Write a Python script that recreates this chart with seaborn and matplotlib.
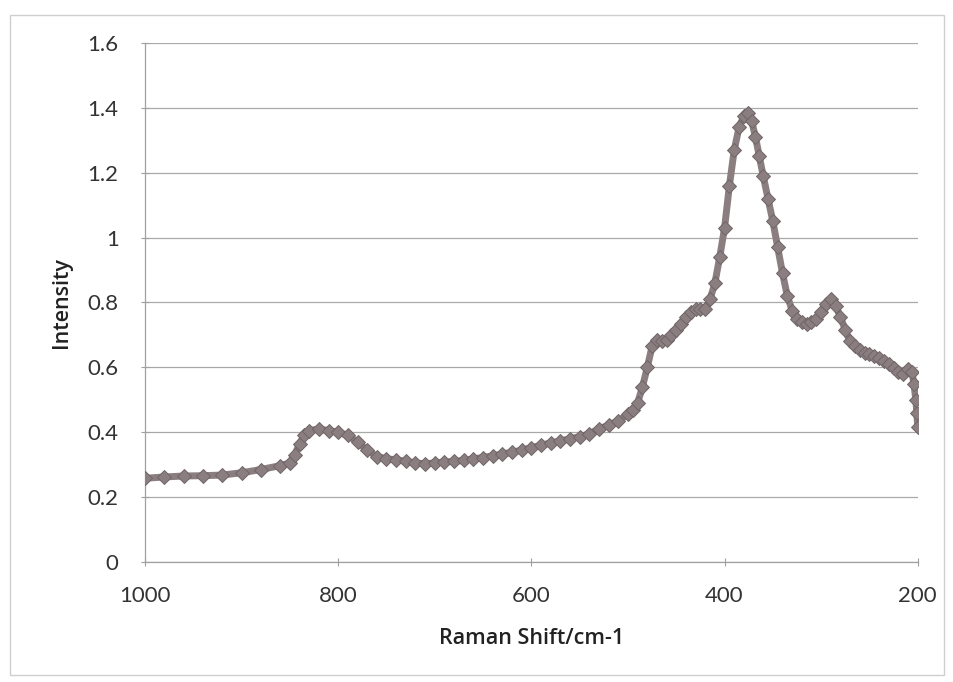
import matplotlib
matplotlib.use("Agg")
import matplotlib.pyplot as plt
import seaborn as sns
import pandas as pd
from matplotlib.patches import Rectangle

raman_shift = [1000, 980, 960, 940, 920, 900, 880, 860, 850, 845, 840, 835, 830, 820, 810,
               800, 790, 780, 770, 760, 750, 740, 730, 720, 710, 700, 690, 680, 670, 660,
               650, 640, 630, 620, 610, 600, 590, 580, 570, 560, 550, 540, 530, 520, 510,
               500, 495, 490, 485, 480, 475, 470, 465, 460, 455, 450, 445, 440, 435, 430,
               425, 420, 415, 410, 405, 400, 395, 390, 385, 380, 376, 372, 368, 364, 360,
               355, 350, 345, 340, 335, 330, 325, 320, 315, 310, 305, 300, 295, 290, 285,
               280, 275, 270, 265, 260, 255, 250, 245, 240, 235, 230, 225, 220, 215, 210,
               206, 204, 202, 201, 200]
intensity = [0.258, 0.262, 0.265, 0.266, 0.268, 0.275, 0.285, 0.297, 0.305, 0.33, 0.365, 0.39, 0.405, 0.41, 0.405,
             0.40, 0.39, 0.37, 0.345, 0.325, 0.318, 0.315, 0.31, 0.305, 0.303, 0.305, 0.308, 0.31, 0.313, 0.318,
             0.322, 0.327, 0.333, 0.338, 0.345, 0.352, 0.36, 0.367, 0.373, 0.38, 0.386, 0.395, 0.41, 0.422, 0.435,
             0.455, 0.47, 0.49, 0.54, 0.60, 0.665, 0.685, 0.68, 0.685, 0.70, 0.715, 0.735, 0.755, 0.77, 0.78,
             0.78, 0.78, 0.81, 0.86, 0.94, 1.03, 1.16, 1.27, 1.34, 1.375, 1.385, 1.36, 1.31, 1.25, 1.19,
             1.12, 1.05, 0.97, 0.89, 0.82, 0.775, 0.75, 0.74, 0.735, 0.74, 0.75, 0.77, 0.795, 0.81, 0.79,
             0.755, 0.715, 0.68, 0.665, 0.655, 0.645, 0.64, 0.635, 0.628, 0.62, 0.61, 0.597, 0.585, 0.578, 0.595,
             0.585, 0.55, 0.50, 0.46, 0.415]

x_ticks = [1000, 800, 600, 400, 200]
y_ticks = [0, 0.2, 0.4, 0.6, 0.8, 1, 1.2, 1.4, 1.6]
y_tick_labels = ["0", "0.2", "0.4", "0.6", "0.8", "1", "1.2", "1.4", "1.6"]

df = pd.DataFrame({"Raman Shift/cm-1": raman_shift, "Intensity": intensity})

sns.set_style("white")
plt.rcParams["font.family"] = ["Lato", "DejaVu Sans"]

fig = plt.figure(figsize=(9.54, 6.82), dpi=100)
ax = fig.add_axes([0.152, 0.176, 0.810, 0.761])

color = "#8a7e80"
sns.lineplot(data=df, x="Raman Shift/cm-1", y="Intensity", sort=False, ax=ax,
             color=color, linewidth=5, marker="D", markersize=7,
             markeredgecolor="#6f6466", markeredgewidth=0.7, zorder=3)

ax.set_xlim(1000, 200)
ax.set_ylim(0, 1.6)
ax.set_xticks(x_ticks)
ax.set_xticklabels([str(v) for v in x_ticks], fontsize=16, color="#333333")
ax.set_yticks(y_ticks)
ax.set_yticklabels(y_tick_labels, fontsize=16, color="#333333")
ax.yaxis.grid(True, color="#a9a9a9", linewidth=0.9)
ax.xaxis.grid(False)
for s in ["top", "right"]:
    ax.spines[s].set_visible(False)
ax.spines["left"].set_color("#a0a0a0")
ax.spines["bottom"].set_color("#a0a0a0")
ax.spines["left"].set_linewidth(0.9)
ax.spines["bottom"].set_linewidth(0.9)
ax.tick_params(axis="both", which="both", direction="inout", length=6, width=0.8,
               color="#a0a0a0", left=True, bottom=True)
ax.tick_params(axis="x", pad=14)
ax.tick_params(axis="y", pad=16)
ax.set_xlabel("Raman Shift/cm-1", fontsize=15.5, fontweight="semibold", color="#222222",
              family=["Open Sans", "DejaVu Sans"])
ax.set_ylabel("Intensity", fontsize=15.5, fontweight="semibold", color="#222222",
              family=["Open Sans", "DejaVu Sans"])
ax.xaxis.set_label_coords(0.5, -0.128)
ax.yaxis.set_label_coords(-0.094, 0.5)

fig.patches.append(Rectangle((0.011, 0.01), 0.978, 0.968, transform=fig.transFigure,
                             fill=False, edgecolor="#cfcfcf", linewidth=1.0))

fig.savefig("out.png", dpi=100)
